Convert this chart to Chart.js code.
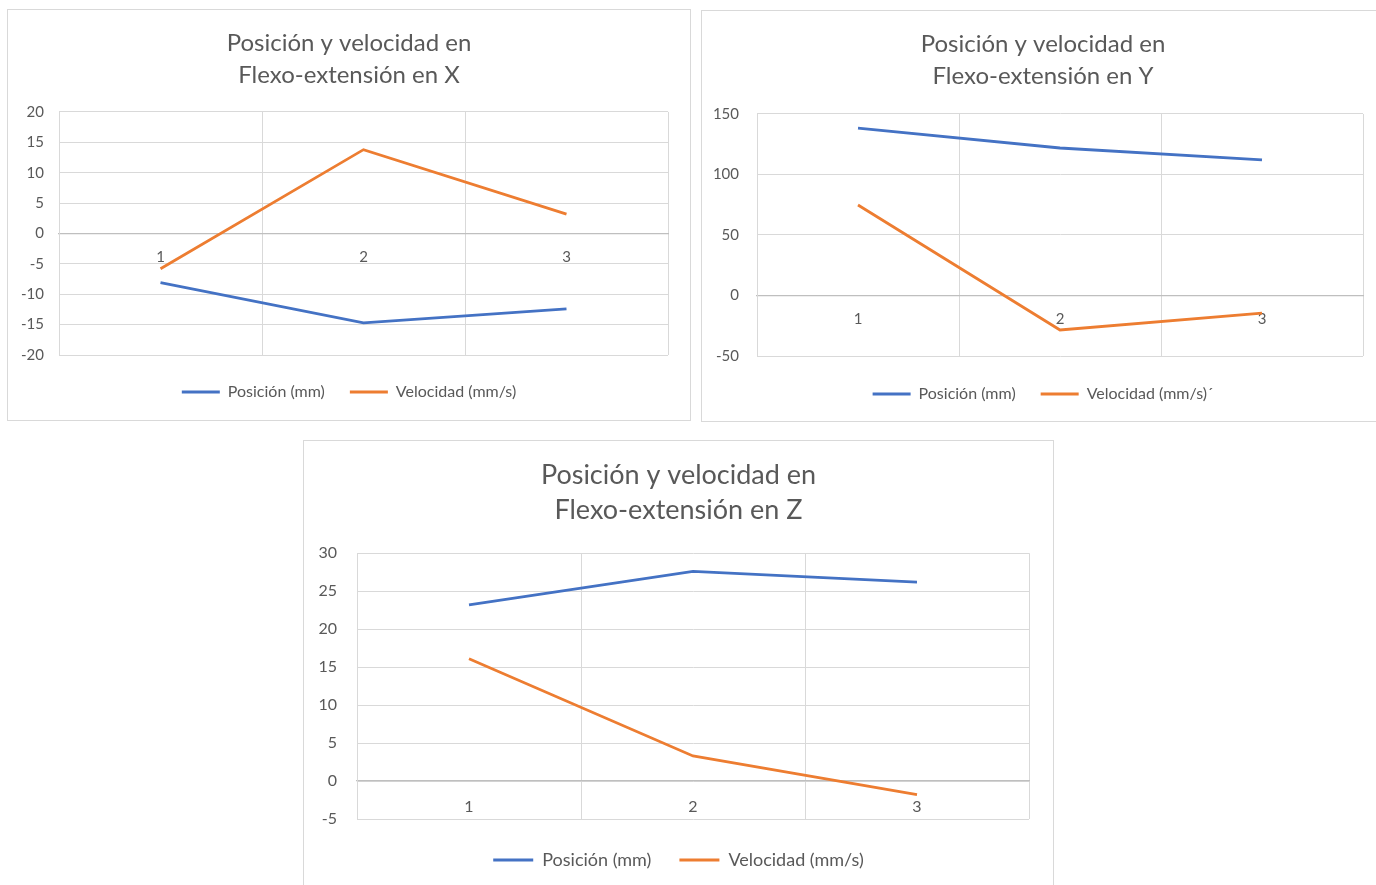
<!DOCTYPE html>
<html lang="es">
<head>
<meta charset="utf-8">
<title>Posición y velocidad en Flexo-extensión</title>
<script src="https://cdn.jsdelivr.net/npm/chart.js@4/dist/chart.umd.min.js"></script>
<style>
  html, body { margin: 0; padding: 0; background: #ffffff; }
  body { width: 1376px; height: 885px; overflow: hidden; position: relative; }
  .panel { position: absolute; border: 1px solid #d9d9d9; box-sizing: border-box; background: #fff; }
  .panel canvas { display: block; }
</style>
</head>
<body>
<div class="panel" id="boxX" style="left:7px; top:9px; width:684px; height:412px;"><canvas id="chartX"></canvas></div>
<div class="panel" id="boxY" style="left:701px; top:10px; width:684px; height:412px;"><canvas id="chartY"></canvas></div>
<div class="panel" id="boxZ" style="left:303px; top:440px; width:751px; height:462px;"><canvas id="chartZ"></canvas></div>

<script>
// Categories (sample number) shared by the three charts
const categories = ['1', '2', '3'];

// Flexo-extension in X
const posX = [-8.1, -14.7, -12.4];
const velX = [-5.8, 13.8, 3.2];

// Flexo-extension in Y
const posY = [138.4, 121.9, 112.0];
const velY = [74.8, -28.5, -14.5];

// Flexo-extension in Z
const posZ = [23.2, 27.6, 26.2];
const velZ = [16.1, 3.3, -1.8];

// Axis ranges [min, max, step]
const rangeX = [-20, 20, 5];
const rangeY = [-50, 150, 50];
const rangeZ = [-5, 30, 5];

// Titles and series names
const titleX = ['Posición y velocidad en', 'Flexo-extensión en X'];
const titleY = ['Posición y velocidad en', 'Flexo-extensión en Y'];
const titleZ = ['Posición y velocidad en', 'Flexo-extensión en Z'];
const seriesPos = 'Posición (mm)';
const seriesVelX = 'Velocidad (mm/s)';
const seriesVelY = 'Velocidad (mm/s)´';
const seriesVelZ = 'Velocidad (mm/s)';

const BLUE = '#4472c4';
const ORANGE = '#ed7d31';
const TEXT = '#595959';
const GRID = '#d9d9d9';
const FONT = "Lato, 'Open Sans', sans-serif";

function makeChart(canvasId, cfg) {
  const ctx = document.getElementById(canvasId);
  return new Chart(ctx, {
    type: 'line',
    data: {
      labels: categories,
      datasets: [
        { label: seriesPos, data: cfg.pos, borderColor: BLUE, backgroundColor: BLUE,
          borderWidth: 2.8, pointRadius: 0, pointHoverRadius: 0, tension: 0 },
        { label: cfg.velName, data: cfg.vel, borderColor: ORANGE, backgroundColor: ORANGE,
          borderWidth: 2.8, pointRadius: 0, pointHoverRadius: 0, tension: 0 }
      ]
    },
    options: {
      responsive: true,
      maintainAspectRatio: false,
      animation: false,
      events: [],
      layout: { padding: { left: 0, right: 0, top: 0, bottom: cfg.padBottom } },
      scales: {
        x: {
          type: 'category',
          position: { y: 0 },
          offset: true,
          grid: { offset: true, color: GRID, lineWidth: 1, drawTicks: false },
          border: { display: true, color: '#bfbfbf', width: 1.3 },
          ticks: { color: TEXT, font: { family: FONT, size: cfg.tickSize }, padding: cfg.xTickPad,
                   maxRotation: 0 }
        },
        y: {
          min: cfg.range[0], max: cfg.range[1],
          grid: { color: GRID, lineWidth: 1, drawTicks: false },
          border: { display: true, color: GRID },
          ticks: { stepSize: cfg.range[2], color: TEXT, font: { family: FONT, size: cfg.tickSize },
                   padding: cfg.yTickPad },
          afterFit: (scale) => { scale.width = cfg.axisWidth; }
        },
        // empty right-hand margin of the plot, keeps title and legend centred on the panel
        margin: {
          type: 'linear',
          position: 'right',
          grid: { display: false, drawTicks: false },
          border: { display: false },
          ticks: { display: false },
          afterFit: (scale) => { scale.width = cfg.marginRight; }
        }
      },
      plugins: {
        title: {
          display: true,
          text: cfg.title,
          color: TEXT,
          font: { family: FONT, size: cfg.titleSize, weight: 'normal', lineHeight: cfg.titleLH },
          padding: { top: cfg.titleTop, bottom: cfg.titleBottom }
        },
        legend: {
          display: true,
          position: 'bottom',
          title: { display: true, text: '', font: { size: cfg.legendGap, lineHeight: 1 }, padding: 0 },
          labels: {
            color: TEXT,
            font: { family: FONT, size: cfg.legendSize },
            usePointStyle: true,
            pointStyle: 'line',
            pointStyleWidth: cfg.swatch,
            padding: cfg.legendPad
          }
        },
        tooltip: { enabled: false }
      }
    }
  });
}

makeChart('chartX', {
  pos: posX, vel: velX, velName: seriesVelX, range: rangeX, title: titleX,
  tickSize: 15, titleSize: 24, titleLH: 1.333, legendSize: 16, swatch: 38, legendPad: 25, legendGap: 4,
  axisWidth: 51, marginRight: 22, padBottom: 10, titleTop: 17, titleBottom: 21,
  xTickPad: 15, yTickPad: 15
});

makeChart('chartY', {
  pos: posY, vel: velY, velName: seriesVelY, range: rangeY, title: titleY,
  tickSize: 15, titleSize: 24, titleLH: 1.333, legendSize: 16, swatch: 38, legendPad: 25, legendGap: 5,
  axisWidth: 55, marginRight: 21, padBottom: 9, titleTop: 17, titleBottom: 22,
  xTickPad: 15, yTickPad: 18
});

makeChart('chartZ', {
  pos: posZ, vel: velZ, velName: seriesVelZ, range: rangeZ, title: titleZ,
  tickSize: 16, titleSize: 27, titleLH: 1.3, legendSize: 18, swatch: 40, legendPad: 28, legendGap: 4,
  axisWidth: 53, marginRight: 24, padBottom: 22, titleTop: 16.5, titleBottom: 25.5,
  xTickPad: 16, yTickPad: 20
});
</script>
</body>
</html>
